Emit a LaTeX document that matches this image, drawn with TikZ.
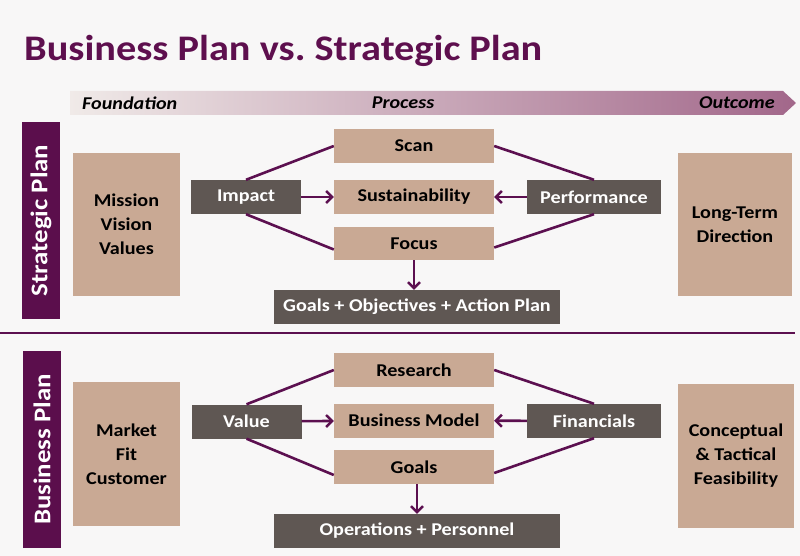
\documentclass[tikz,border=0pt]{standalone}
\usepackage{fontspec}
\setmainfont{Carlito}[FakeStretch=1.12]
\usetikzlibrary{arrows.meta}
\definecolor{bgc}{HTML}{F8F7F7}
\definecolor{tanc}{HTML}{C9A994}
\definecolor{darkc}{HTML}{5F5753}
\definecolor{barc}{HTML}{5B0E4C}
\definecolor{titlec}{HTML}{5E0F4E}
\definecolor{linec}{HTML}{5C1050}
\definecolor{bandL}{HTML}{F0EAE8}
\definecolor{bandM}{HTML}{D5C0C3}
\definecolor{bandR}{HTML}{A2678A}
\newcommand{\bxfont}{\fontsize{18}{24}\selectfont\bfseries}
\newcommand{\ttlfont}{\fontsize{36}{40}\selectfont\bfseries}
\newcommand{\bandfont}{\fontsize{18}{20}\selectfont\bfseries\itshape}
\newcommand{\barfont}{\fontsize{24}{26}\selectfont\bfseries}
\frenchspacing
\begin{document}
\begin{tikzpicture}[x=1pt,y=-1pt,
  tanbox/.style={fill=tanc, text=black, font=\bxfont, align=center, inner sep=0pt},
  darkbox/.style={fill=darkc, text=white, font=\bxfont, align=center, inner sep=0pt},
  sidebar/.style={fill=barc, text=white, font=\barfont, rotate=90, inner sep=0pt, minimum height=38pt},
  conn/.style={draw=linec, line width=2.6pt},
  arr/.style={conn, -{Straight Barb[length=6pt,width=12pt,line width=2.4pt]}}
]
\fill[bgc] (0,0) rectangle (800,556);
\useasboundingbox (0,0) rectangle (800,556);

% title
\node[anchor=base west, text=titlec, font=\ttlfont, inner sep=0pt] (title) at (24,61) {Business Plan vs. Strategic Plan};

% band
\shade[left color=bandL, middle color=bandM, right color=bandR]
  (70,91) -- (783,91) -- (796,103) -- (783,115) -- (70,115) -- cycle;
\node[anchor=west, font=\bandfont, inner sep=0pt] (found) at (82,103) {Foundation};
\node[font=\bandfont, inner sep=0pt] (proc) at (403,103) {Process};
\node[anchor=east, font=\bandfont, inner sep=0pt] (outc) at (775,103) {Outcome};

% ===== Strategic plan =====
\node[sidebar, minimum width=196pt] (spbar) at (41,220.5) {Strategic Plan};
\node[tanbox, minimum width=107pt, minimum height=143pt] (mission) at (126.5,224.5) {Mission\\Vision\\Values};
\node[darkbox, minimum width=110pt, minimum height=34pt] (impact) at (246,197) {Impact};
\node[tanbox, minimum width=160pt, minimum height=34pt] (scan) at (414,146) {Scan};
\node[tanbox, minimum width=160pt, minimum height=34pt] (sust) at (414,197) {Sustainability};
\node[tanbox, minimum width=160pt, minimum height=33pt] (focus) at (414,243.5) {Focus};
\node[darkbox, minimum width=134pt, minimum height=34pt] (perf) at (594,197) {Performance};
\node[tanbox, minimum width=114pt, minimum height=143pt] (longterm) at (735,224.5) {Long-Term\\Direction};
\node[darkbox, minimum width=286pt, minimum height=34pt] (goalsobj) at (417,307) {Goals + Objectives + Action Plan};

\draw[conn] (impact.north) -- (scan.west);
\draw[conn] (impact.south) -- ([yshift=-6pt]focus.west);
\draw[conn] (perf.north) -- (scan.east);
\draw[conn] (perf.south) -- ([yshift=-4pt]focus.east);
\draw[arr] (impact) -- (sust);
\draw[arr] (perf) -- (sust);
\draw[arr] (focus.south) -- (focus.south |- goalsobj.north);

% separator
\coordinate (sepL) at (0,333);
\coordinate (sepR) at (795,333);
\draw[linec, line width=1.5pt] (sepL) -- (sepR);

% ===== Business plan =====
\node[sidebar, minimum width=197pt] (bpbar) at (42,449.5) {Business Plan};
\node[tanbox, minimum width=107pt, minimum height=144pt] (market) at (126.5,454) {Market\\Fit\\Customer};
\node[darkbox, minimum width=110pt, minimum height=34pt] (value) at (246.5,421.5) {Value};
\node[tanbox, minimum width=160pt, minimum height=34pt] (research) at (414,370) {Research};
\node[tanbox, minimum width=160pt, minimum height=34pt] (bmodel) at (414,420.5) {Business Model};
\node[tanbox, minimum width=160pt, minimum height=34pt] (goals) at (414,467) {Goals};
\node[darkbox, minimum width=134pt, minimum height=34pt] (fin) at (594,421) {Financials};
\node[tanbox, minimum width=116pt, minimum height=144pt] (concept) at (736,456) {Conceptual\\\& Tactical\\Feasibility};
\node[darkbox, minimum width=286pt, minimum height=34pt] (ops) at (417,531) {Operations + Personnel};

\draw[conn] (value.north) -- (research.west);
\draw[conn] (value.south) -- ([yshift=-8pt]goals.west);
\draw[conn] (fin.north) -- (research.east);
\draw[conn] (fin.south) -- ([yshift=-6pt]goals.east);
\draw[arr] (value) -- (bmodel);
\draw[arr] (fin) -- (bmodel);
\draw[arr] ([xshift=3pt]goals.south) -- ([xshift=3pt]goals.south |- ops.north);
\end{tikzpicture}
\end{document}
